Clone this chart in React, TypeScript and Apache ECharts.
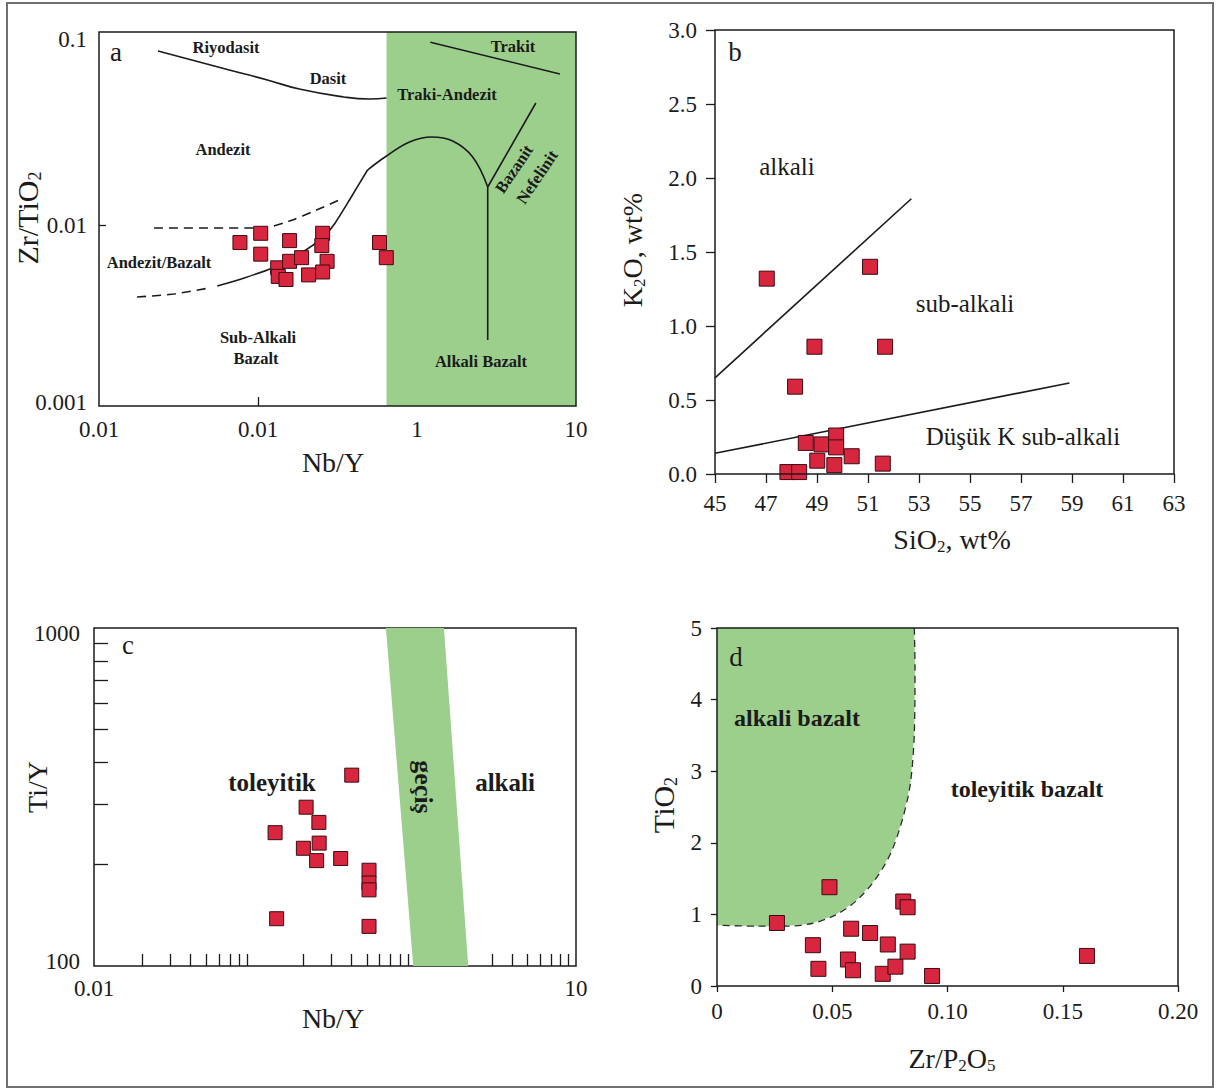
import React, { useEffect, useRef } from "react";
import * as echarts from "echarts";

const SERIF = '"Liberation Serif", "Times New Roman", "DejaVu Serif", serif';
const INK = "#1b1b1b";
const GREEN = "#9dcf8c";
const RED = "#d7263d";
const RED_EDGE = "#3d0b12";

// ---------------- panel a : Zr/TiO2 vs Nb/Y ----------------
const A_X_TICK_VALUES = [0.01, 0.1, 1, 10];
const A_X_TICK_LABELS = ["0.01", "0.01", "1", "10"];
const A_X_INNER_TICKS = [0.1, 1];
const A_Y_TICK_VALUES = [0.001, 0.01, 0.1];
const A_Y_TICK_LABELS = ["0.001", "0.01", "0.1"];
const A_Y_INNER_TICKS = [0.01];
const A_NB_Y = [0.077, 0.104, 0.104, 0.158, 0.133, 0.158, 0.134, 0.15, 0.188, 0.208, 0.255, 0.252, 0.272, 0.255, 0.581, 0.641];
const A_ZR_TIO2 = [0.008, 0.009, 0.0069, 0.0082, 0.0058, 0.0063, 0.0052, 0.005, 0.0066, 0.0053, 0.009, 0.0077, 0.0063, 0.0055, 0.008, 0.0066];
const A_ALKALI_FIELD = [[0.643, 0.001], [10, 0.001], [10, 0.1165], [0.643, 0.1165]];
const A_RIYODASIT_LINE = [[0.0235, 0.0915], [0.066, 0.0719], [0.1145, 0.0633], [0.182, 0.0564], [0.345, 0.051], [0.503, 0.0497], [0.643, 0.0503]];
const A_TRAKIT_LINE = [[1.213, 0.1022], [7.92, 0.0683]];
const A_SUBALKALI_LINE = [[0.0554, 0.0046], [0.082, 0.0051], [0.1231, 0.00579], [0.182, 0.00691], [0.2542, 0.00848], [0.3026, 0.01013], [0.376, 0.01374], [0.4884, 0.02013]];
const A_DOME_LINE = [[0.4884, 0.02013], [0.643, 0.02405], [0.898, 0.02874], [1.236, 0.03064], [1.676, 0.02912], [2.24, 0.02375], [2.785, 0.01622]];
const A_ALKALI_BAZALT_LINE = [[2.785, 0.01622], [2.785, 0.002315]];
const A_NEFELINIT_LINE = [[2.785, 0.01622], [5.59, 0.0472]];
const A_DASHED_UPPER = [[0.0222, 0.00963], [0.1064, 0.00963], [0.1575, 0.01052], [0.233, 0.0121], [0.335, 0.01392]];
const A_DASHED_LOWER = [[0.01736, 0.004], [0.0297, 0.00416], [0.0493, 0.00449]];

// ---------------- panel b : K2O vs SiO2 ----------------
const B_X_TICKS = [45, 47, 49, 51, 53, 55, 57, 59, 61, 63];
const B_SIO2 = [47.03, 51.08, 48.9, 51.67, 48.14, 48.56, 49.18, 49.75, 49.75, 49.01, 50.36, 49.68, 51.58, 47.84, 48.3];
const B_K2O = [1.32, 1.4, 0.86, 0.86, 0.59, 0.21, 0.2, 0.26, 0.18, 0.09, 0.12, 0.06, 0.07, 0.013, 0.013];
const B_ALKALI_LINE = [[45, 0.65], [52.7, 1.86]];
const B_LOWK_LINE = [[45, 0.14], [58.9, 0.615]];

// ---------------- panel c : Ti/Y vs Nb/Y ----------------
const C_X_LABEL_VALUES = [0.01, 10];
const C_X_LABELS = ["0.01", "10"];
const C_Y_LABEL_VALUES = [100, 1000];
const C_Y_LABELS = ["100", "1000"];
const C_X_MINOR = [0.02, 0.03, 0.04, 0.05, 0.06, 0.07, 0.08, 0.09, 0.2, 0.3, 0.4, 0.5, 0.6, 0.7, 0.8, 0.9, 2, 3, 4, 5, 6, 7, 8, 9];
const C_Y_MINOR = [200, 300, 400, 500, 600, 700, 800, 900];
const C_NB_Y = [0.402, 0.209, 0.251, 0.252, 0.201, 0.243, 0.343, 0.515, 0.515, 0.515, 0.515, 0.134, 0.137];
const C_TI_Y = [367, 295, 266, 231, 223, 205, 208, 192, 176, 168, 131, 248, 138];
const C_GECIS_BAND = [[0.656, 1000], [1.507, 1000], [2.134, 100], [0.97, 100]];

// ---------------- panel d : TiO2 vs Zr/P2O5 ----------------
const D_ZR_P2O5 = [0.0488, 0.026, 0.0416, 0.044, 0.0582, 0.0568, 0.059, 0.0664, 0.0741, 0.0719, 0.0774, 0.0808, 0.0827, 0.0827, 0.0933, 0.1605];
const D_TIO2 = [1.38, 0.88, 0.57, 0.24, 0.8, 0.37, 0.22, 0.74, 0.58, 0.17, 0.27, 1.18, 1.1, 0.48, 0.14, 0.42];
const D_FIELD_BOUNDARY = [[0.0856, 5], [0.0859, 4.46], [0.0856, 3.53], [0.0839, 2.83], [0.0804, 2.32], [0.0753, 1.85], [0.0685, 1.48], [0.0599, 1.175], [0.0513, 0.99], [0.0411, 0.873], [0.0291, 0.835], [0.0171, 0.835], [0, 0.85]];
const D_FIELD_CORNER = [0, 5];

const labelBase = { color: INK, fontFamily: SERIF, fontSize: 23 };
const tickLine = { color: INK, width: 1.3 };

const logLabel = (values: number[], labels: string[], rich?: string[]) => (v: number) => {
  const i = values.findIndex((t) => Math.abs(Math.log10(t) - Math.log10(v)) < 1e-4);
  if (i < 0) return "";
  return rich && rich[i] ? `{${rich[i]}|${labels[i]}}` : labels[i];
};

const zip = (xs: number[], ys: number[]) => xs.map((x, i) => [x, ys[i]]);

function polygonSeries(points: number[][], idx: number, z: number) {
  return {
    type: "custom",
    xAxisIndex: idx,
    yAxisIndex: idx,
    z,
    silent: true,
    data: [points[0]],
    renderItem: (_p: any, api: any) => ({
      type: "polygon",
      shape: { points: points.map((pt) => api.coord(pt)) },
      style: { fill: GREEN, stroke: "none" },
    }),
  };
}

function lineSeries(data: number[][], idx: number, opts: any = {}) {
  return {
    type: "line",
    xAxisIndex: idx,
    yAxisIndex: idx,
    data,
    symbol: "none",
    showSymbol: false,
    smooth: opts.smooth ?? false,
    silent: true,
    z: 3,
    lineStyle: { color: opts.color ?? INK, width: opts.width ?? 1.6, type: opts.dash ?? "solid" },
  };
}

function pointSeries(xs: number[], ys: number[], idx: number, size: number) {
  return {
    type: "scatter",
    xAxisIndex: idx,
    yAxisIndex: idx,
    data: zip(xs, ys),
    symbol: "rect",
    symbolSize: size,
    z: 5,
    itemStyle: { color: RED, borderColor: RED_EDGE, borderWidth: 1, opacity: 1 },
  };
}

function txt(x: number, y: number, text: string, size: number, weight = "normal", rotation = 0, rich?: any) {
  return {
    type: "text",
    x,
    y,
    rotation,
    silent: true,
    z: 20,
    style: { text, fontSize: size, fontFamily: SERIF, fontWeight: weight, fill: INK, align: "center", verticalAlign: "middle", rich },
  };
}

const TITLE = 28;
const titleRich = {
  m: { fontSize: TITLE, fontFamily: SERIF, fill: INK },
  s: { fontSize: 17, fontFamily: SERIF, fill: INK, padding: [14, 0, 0, 0] },
};
const titleRichBig = {
  m: { fontSize: 30, fontFamily: SERIF, fill: INK },
  s: { fontSize: 18, fontFamily: SERIF, fill: INK, padding: [15, 0, 0, 0] },
};

const baseAxis = { axisLine: { show: false }, splitLine: { show: false } };

export default function App() {
  const ref = useRef<HTMLDivElement>(null);
  useEffect(() => {
    if (!ref.current) return;
    const chart = echarts.init(ref.current, undefined, { renderer: "svg" });
    const gridBase = { show: true, borderColor: INK, borderWidth: 1.5, backgroundColor: "transparent" };
    const option: any = {
      animation: false,
      backgroundColor: "#ffffff",
      grid: [
        { ...gridBase, left: 99, top: 32, width: 477, height: 374, z: 10 },
        { ...gridBase, left: 715, top: 30, width: 459, height: 444, z: 10 },
        { ...gridBase, left: 94, top: 628, width: 482, height: 338, z: 0 },
        { ...gridBase, left: 717, top: 628, width: 461, height: 358, z: 10 },
      ],
      xAxis: [
        {
          ...baseAxis, gridIndex: 0, type: "log", logBase: 10, min: 0.01, max: 10,
          axisTick: { show: true, inside: true, length: 9, lineStyle: tickLine, customValues: A_X_INNER_TICKS },
          axisLabel: { ...labelBase, margin: 12, customValues: A_X_TICK_VALUES, formatter: logLabel(A_X_TICK_VALUES, A_X_TICK_LABELS) },
        },
        {
          ...baseAxis, gridIndex: 1, type: "value", min: 45, max: 63,
          axisTick: { show: true, inside: false, length: 9, lineStyle: tickLine, customValues: B_X_TICKS },
          axisLabel: { ...labelBase, margin: 18, customValues: B_X_TICKS },
        },
        {
          ...baseAxis, gridIndex: 2, type: "log", logBase: 10, min: 0.01, max: 10,
          axisTick: { show: true, inside: true, length: 12, lineStyle: tickLine, customValues: C_X_MINOR },
          axisLabel: { ...labelBase, margin: 11, customValues: C_X_LABEL_VALUES, formatter: logLabel(C_X_LABEL_VALUES, C_X_LABELS) },
        },
        {
          ...baseAxis, gridIndex: 3, type: "value", min: 0, max: 0.2, interval: 0.05,
          axisTick: { show: true, inside: false, length: 6, lineStyle: tickLine },
          axisLabel: { ...labelBase, margin: 14, formatter: (v: number) => (v === 0 ? "0" : v.toFixed(2)) },
        },
      ],
      yAxis: [
        {
          ...baseAxis, gridIndex: 0, type: "log", logBase: 10, min: 0.001, max: 0.1165,
          axisTick: { show: true, inside: true, length: 7, lineStyle: tickLine, customValues: A_Y_INNER_TICKS },
          axisLabel: {
            ...labelBase, margin: 12, customValues: A_Y_TICK_VALUES,
            formatter: logLabel(A_Y_TICK_VALUES, A_Y_TICK_LABELS, ["lo", "", "hi"]),
            rich: { lo: { ...labelBase, padding: [0, 0, 8, 0] }, hi: { ...labelBase, padding: [0, 0, 10, 0] } },
          },
        },
        {
          ...baseAxis, gridIndex: 1, type: "value", min: 0, max: 3, interval: 0.5,
          axisTick: { show: true, inside: false, length: 9, lineStyle: tickLine },
          axisLabel: { ...labelBase, margin: 18, formatter: (v: number) => v.toFixed(1) },
        },
        {
          ...baseAxis, gridIndex: 2, type: "log", logBase: 10, min: 100, max: 1000,
          axisTick: { show: true, inside: true, length: 14, lineStyle: tickLine, customValues: C_Y_MINOR },
          axisLabel: {
            ...labelBase, margin: 14, customValues: C_Y_LABEL_VALUES,
            formatter: logLabel(C_Y_LABEL_VALUES, C_Y_LABELS, ["lo", "hi"]),
            rich: { lo: { ...labelBase, padding: [0, 0, 10, 0] }, hi: { ...labelBase, padding: [10, 0, 0, 0] } },
          },
        },
        {
          ...baseAxis, gridIndex: 3, type: "value", min: 0, max: 5, interval: 1,
          axisTick: { show: true, inside: false, length: 6, lineStyle: tickLine },
          axisLabel: { ...labelBase, margin: 15 },
        },
      ],
      series: [
        // panel a
        polygonSeries(A_ALKALI_FIELD, 0, 1),
        lineSeries(A_RIYODASIT_LINE, 0, { smooth: 0.5 }),
        lineSeries(A_TRAKIT_LINE, 0),
        lineSeries(A_SUBALKALI_LINE, 0, { smooth: 0.2 }),
        lineSeries(A_DOME_LINE, 0, { smooth: 0.4 }),
        lineSeries(A_ALKALI_BAZALT_LINE, 0),
        lineSeries(A_NEFELINIT_LINE, 0),
        lineSeries(A_DASHED_UPPER, 0, { smooth: 0.3, dash: [9, 6] }),
        lineSeries(A_DASHED_LOWER, 0, { smooth: 0.3, dash: [9, 6] }),
        pointSeries(A_NB_Y, A_ZR_TIO2, 0, 14),
        // panel b
        lineSeries(B_ALKALI_LINE, 1),
        lineSeries(B_LOWK_LINE, 1),
        pointSeries(B_SIO2, B_K2O, 1, 15),
        // panel c
        polygonSeries(C_GECIS_BAND, 2, 2),
        pointSeries(C_NB_Y, C_TI_Y, 2, 14),
        // panel d
        polygonSeries([D_FIELD_CORNER, ...D_FIELD_BOUNDARY], 3, 1),
        lineSeries(D_FIELD_BOUNDARY, 3, { smooth: 0.3, dash: [7, 5], color: "#2b2b2b", width: 1.3 }),
        pointSeries(D_ZR_P2O5, D_TIO2, 3, 15),
      ],
      graphic: [
        { type: "rect", silent: true, z: 0, shape: { x: 7, y: 3, width: 1206, height: 1084 }, style: { fill: "none", stroke: "#707070", lineWidth: 2 } },
        // panel a
        txt(116, 52, "a", 27),
        txt(226, 47, "Riyodasit", 16.5, "bold"),
        txt(328, 78, "Dasit", 16.5, "bold"),
        txt(447, 94, "Traki-Andezit", 16.5, "bold"),
        txt(513, 46, "Trakit", 16.5, "bold"),
        txt(223, 149, "Andezit", 16.5, "bold"),
        txt(159, 262, "Andezit/Bazalt", 16.5, "bold"),
        txt(258, 337, "Sub-Alkali", 16.5, "bold"),
        txt(256, 358, "Bazalt", 16.5, "bold"),
        txt(481, 361, "Alkali Bazalt", 16.5, "bold"),
        txt(514, 169, "Bazanit", 16.5, "bold", 0.977),
        txt(537, 177, "Nefelinit", 16.5, "bold", 0.977),
        txt(27, 218, "{m|Zr/TiO}{s|2}", 30, "normal", Math.PI / 2, titleRichBig),
        txt(333, 462, "Nb/Y", TITLE),
        // panel b
        txt(735, 52, "b", 27),
        txt(787, 166, "alkali", 25),
        txt(965, 303, "sub-alkali", 25),
        txt(1023, 436, "Düşük K sub-alkali", 25),
        txt(632, 250, "{m|K}{s|2}{m|O, wt%}", TITLE, "normal", Math.PI / 2, titleRich),
        txt(952, 539, "{m|SiO}{s|2}{m|, wt%}", TITLE, "normal", 0, titleRich),
        // panel c
        txt(128, 645, "c", 27),
        txt(272, 782, "toleyitik", 25, "bold"),
        txt(505, 782, "alkali", 25, "bold"),
        txt(423, 787, "geçiş", 26, "bold", -Math.PI / 2),
        txt(37, 787, "Ti/Y", TITLE, "normal", Math.PI / 2),
        txt(333, 1018, "Nb/Y", TITLE),
        // panel d
        txt(736, 657, "d", 27),
        txt(797, 718, "alkali bazalt", 24, "bold"),
        txt(1027, 789, "toleyitik bazalt", 24, "bold"),
        txt(663, 805, "{m|TiO}{s|2}", 30, "normal", Math.PI / 2, titleRichBig),
        txt(952, 1058, "{m|Zr/P}{s|2}{m|O}{s|5}", TITLE, "normal", 0, titleRich),
      ],
    };
    chart.setOption(option);
    return () => chart.dispose();
  }, []);
  return <div ref={ref} style={{ position: "absolute", left: 0, top: 0, width: 1217, height: 1090, background: "#fff" }} />;
}
